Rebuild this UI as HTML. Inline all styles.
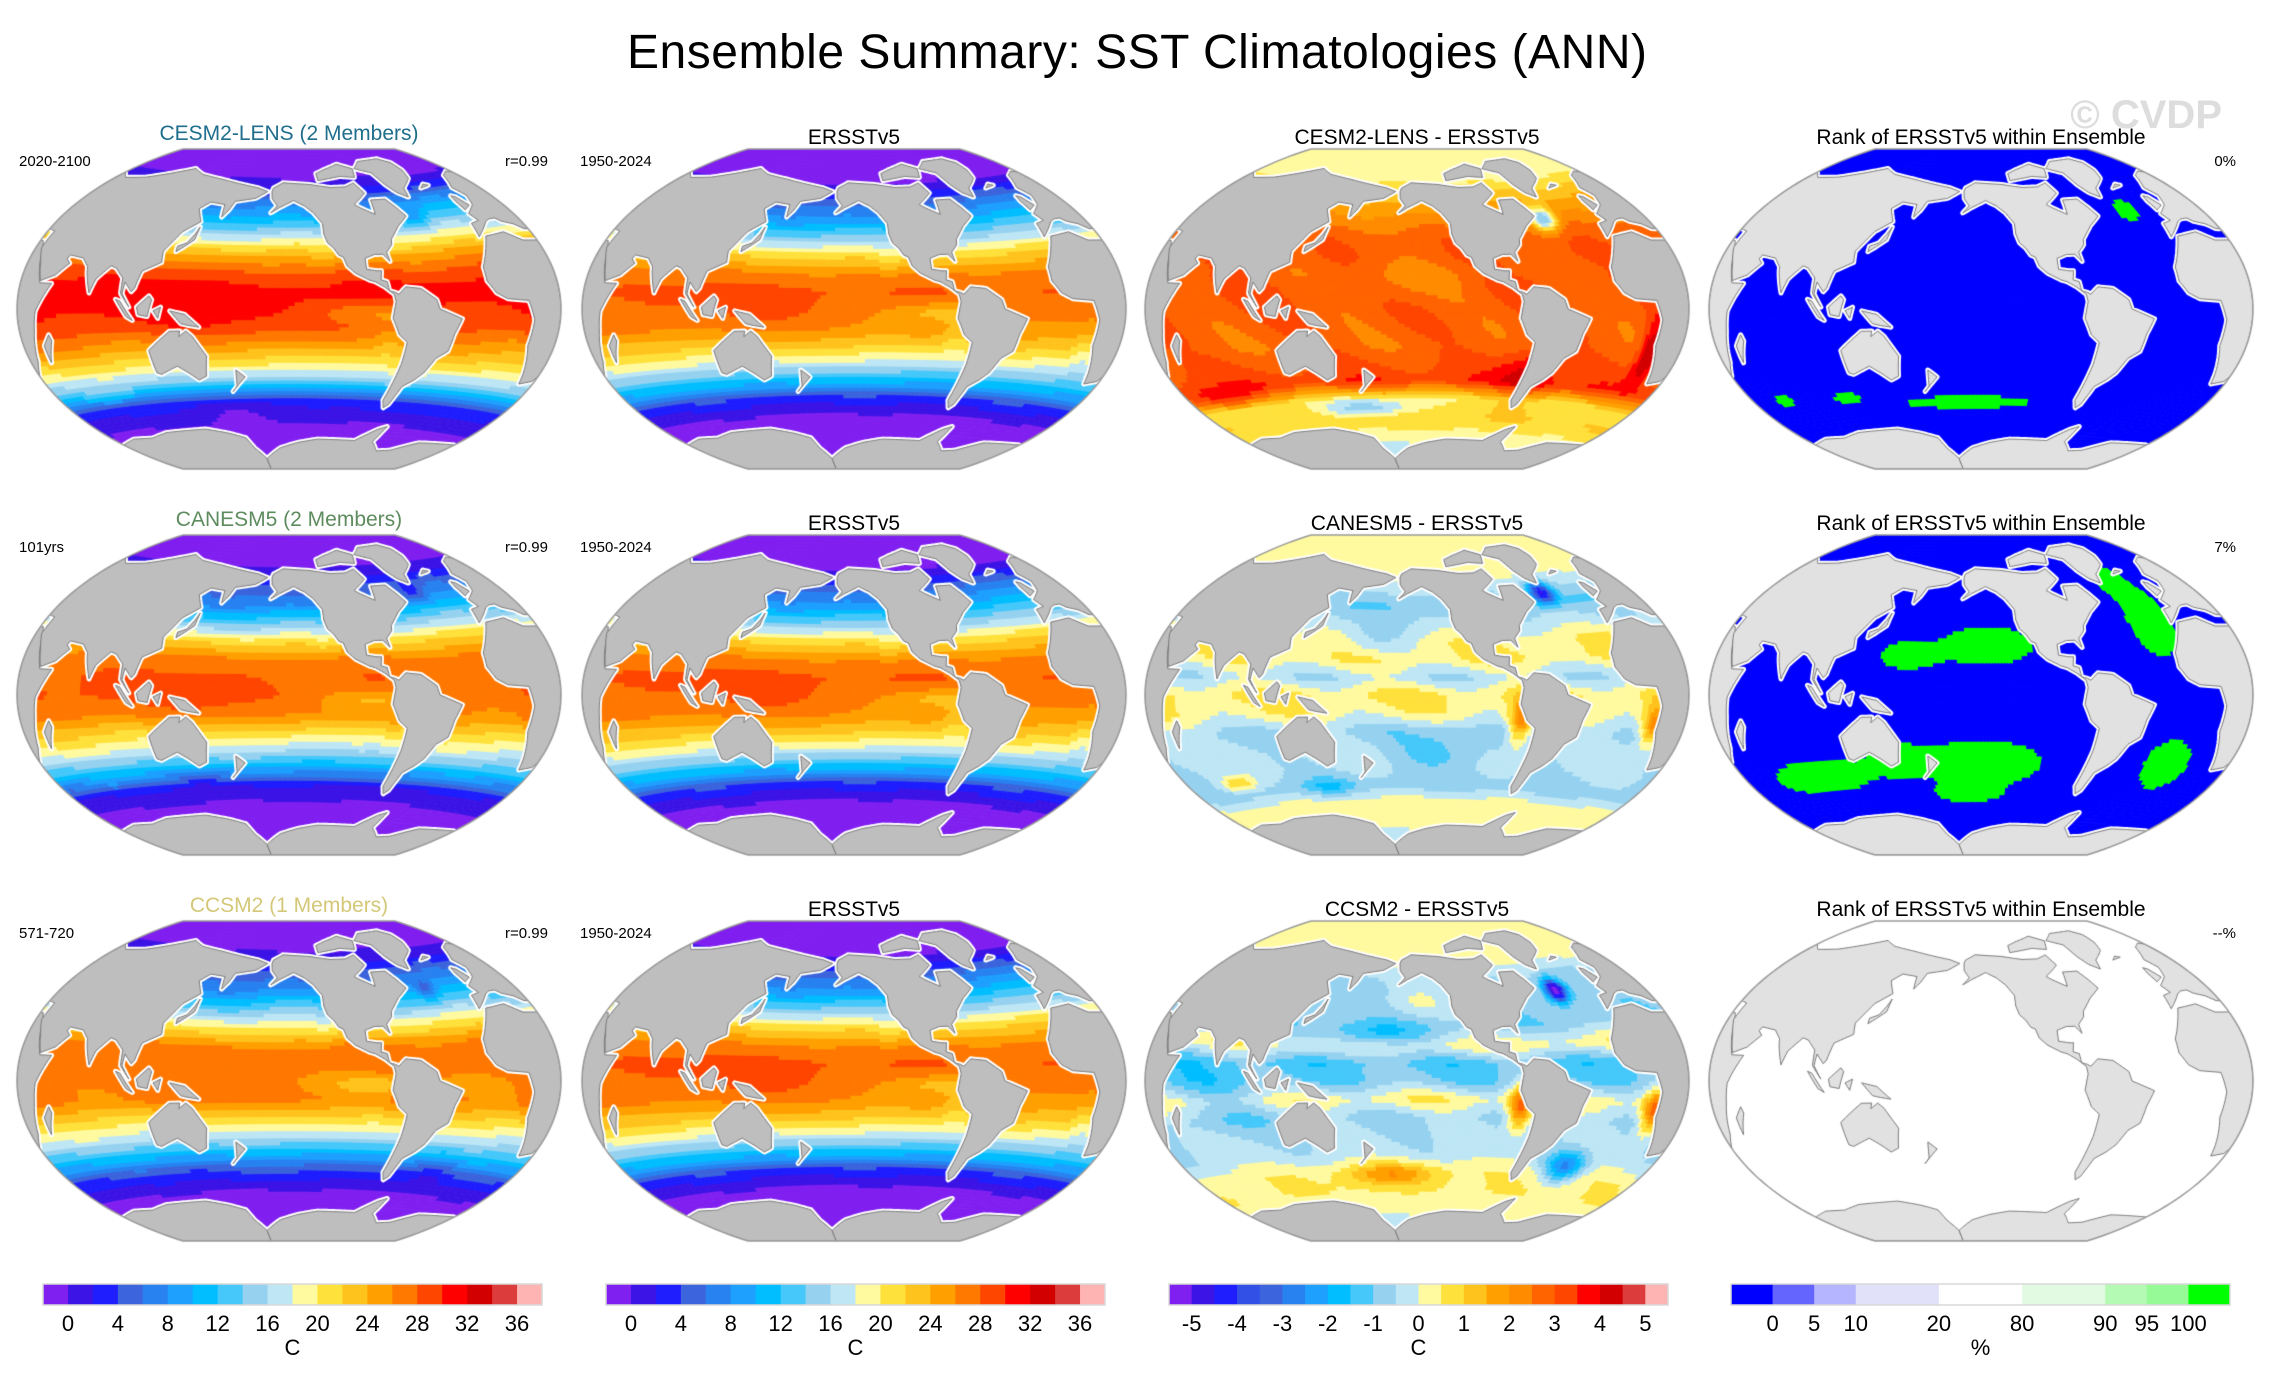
<!DOCTYPE html>
<html><head><meta charset="utf-8">
<style>
html,body{margin:0;padding:0;background:#fff;}
#wrap{position:relative;width:2274px;height:1386px;overflow:hidden;font-family:"Liberation Sans",sans-serif;}
canvas,svg{position:absolute;left:0;top:0;}
</style></head>
<body>
<div id="wrap">
<canvas id="maps" width="2274" height="1386"></canvas>
<svg id="ov" width="2274" height="1386" font-family="Liberation Sans, sans-serif">
<text x="1137" y="68" font-size="48" text-anchor="middle" textLength="1020">Ensemble Summary: SST Climatologies (ANN)</text>
<text x="2222" y="128" font-size="40" font-weight="bold" fill="#dddddd" text-anchor="end">© CVDP</text>
</svg>
</div>
<script>
// ---------- data ----------
const sstLevels=[0,2,4,6,8,10,12,14,16,18,20,22,24,26,28,30,32,34,36];
const sstColors=["#8020F0","#3C14E6","#1E1EFF","#3C64DC","#2882F0","#1EA0FF","#00BEFF","#46C8FA","#96D2F0","#BEE6F5","#FFFAA0","#FFE13C","#FFC31E","#FFA000","#FF7800","#FF4600","#FF0000","#D20000","#DC3C3C","#FFB4B4"];
const sstTicks=[0,4,8,12,16,20,24,28,32,36];
const diffLevels=[-5,-4.5,-4,-3.5,-3,-2.5,-2,-1.5,-1,-0.5,0,0.5,1,1.5,2,2.5,3,3.5,4,4.5,5];
const diffColors=["#8020F0","#3C14E6","#1E1EFF","#3250E6","#3C64DC","#2882F0","#1EA0FF","#00BEFF","#46C8FA","#96D2F0","#BEE6F5","#FFFAA0","#FFE13C","#FFC31E","#FFA000","#FF8C00","#FF6400","#FF4600","#FF0000","#D20000","#DC3C3C","#FFB4B4"];
const diffTicks=[-5,-4,-3,-2,-1,0,1,2,3,4,5];
const rankLevels=[0,5,10,20,80,90,95,100];
const rankColors=["#0000FF","#6464FF","#B4B4FF","#E1E1FA","#FFFFFF","#E1FAE1","#B4FAB4","#96FA96","#00FF00"];
const rankBoxUnits=[1,1,1,2,2,2,1,1,1];
const rankTicks=["0","5","10","20","80","90","95","100"];

const zLat=[-90,-75,-60,-50,-40,-30,-20,-10,0,10,20,30,40,50,60,70,80,90];
const obsZonal=[-1.8,-1.8,-0.5,3,11,17.5,22.5,26,27,28,26,21.5,15,9,5,0,-1.5,-1.8];
const diff1Zonal=[0,0,1,0.6,3.4,3,2.7,2.8,2.9,3,2.8,2.9,2.8,2.2,1.5,0.5,0.3,0.3];
const diff2Zonal=[0,0,0.3,-0.8,-0.4,-0.3,-0.6,0.3,0.6,-0.4,0.5,0.4,-0.4,-1,-0.3,0.3,0.3,0.3];
const diff3Zonal=[0,0,0.5,0.4,-0.3,-0.4,-0.6,0.4,-0.9,-1.2,0.4,-0.8,-0.8,-0.8,-0.4,0.4,0.4,0.4];
// anomaly blobs: [lon, lat, lonRadius, latRadius, amplitude]
const obsBlobs=[[150,0,50,15,1.5],[265,-2,30,6,-3.5],[280,-15,12,15,-3],[10,-20,10,12,-3],[235,30,12,10,-3],[340,55,30,15,5],[165,45,25,10,-2],[80,5,30,15,1],[320,10,30,10,0.5]];
const diff1Blobs=[[290,-35,20,15,1.2],[10,-20,8,15,2],[310,48,10,7,-3.5],[60,-45,30,5,1.5],[170,-55,40,5,-1.5],[200,15,40,12,-0.6]];
const diff2Blobs=[[280,-15,8,12,2.5],[10,-15,8,10,2.5],[315,55,10,6,-4],[230,-30,35,12,-0.8],[140,-50,20,5,-0.8],[70,-45,15,4,1.5],[180,30,25,8,-0.8]];
const diff3Blobs=[[280,-15,8,12,3],[10,-15,8,10,3],[320,48,8,6,-5],[190,-52,35,6,1.5],[325,-45,15,8,-2.5],[180,25,35,8,-1.2],[210,45,30,10,0.8],[80,-10,40,15,-0.6]];
const rank1Blobs=[[200,-52,55,4,1],[105,-47,12,3,1],[330,52,10,6,1],[55,-45,8,3,1]];
const rank2Blobs=[[215,28,35,12,1],[335,40,18,22,1],[210,-38,50,14,1],[90,-42,40,10,1],[345,-35,18,14,1],[150,-35,18,8,1],[325,62,12,8,1],[160,22,20,8,1],[200,-55,25,5,1]];

// ---------- land (lon, lat) ----------
const land=[
[[-17,21],[-10,30],[-5,36],[10,37],[20,32],[32,31],[35,28],[43,12],[51,12],[42,-1],[40,-10],[35,-24],[28,-33],[20,-35],[18,-30],[12,-17],[13,-5],[9,4],[-5,5],[-12,8],[-17,14]],
[[-10,36],[-9,43],[-2,44],[-5,48],[5,52],[9,57],[5,62],[15,69],[25,71],[40,67],[60,69],[80,73],[100,77],[115,74],[140,72],[160,70],[180,68],[190,66],[180,62],[163,60],[160,55],[156,51],[155,58],[142,59],[135,55],[141,48],[130,42],[126,37],[121,31],[122,25],[110,20],[107,11],[105,9],[100,14],[99,8],[104,1],[98,8],[98,16],[92,21],[88,22],[80,15],[77,8],[73,18],[72,21],[67,25],[57,26],[56,24],[59,22],[52,16],[43,13],[39,21],[34,28],[35,36],[27,37],[22,40],[15,42],[12,44],[7,44],[3,43]],
[[-165,68],[-156,71],[-130,70],[-110,68],[-95,68],[-85,70],[-80,64],[-94,58],[-90,56],[-80,52],[-78,60],[-65,60],[-60,55],[-56,50],[-66,45],[-70,42],[-75,38],[-76,35],[-81,31],[-80,26],[-82,28],[-84,30],[-90,30],[-97,28],[-97,22],[-90,21],[-87,21],[-88,16],[-84,15],[-83,10],[-79,9],[-77,8],[-72,12],[-62,11],[-52,5],[-50,0],[-35,-5],[-39,-13],[-41,-22],[-48,-26],[-53,-34],[-58,-38],[-65,-42],[-67,-47],[-69,-52],[-72,-54],[-75,-50],[-73,-40],[-71,-30],[-70,-18],[-76,-14],[-81,-5],[-80,0],[-79,4],[-80,8],[-86,12],[-92,15],[-96,16],[-105,20],[-110,24],[-112,29],[-115,30],[-118,34],[-122,37],[-124,42],[-124,48],[-130,54],[-137,58],[-146,61],[-152,59],[-158,57],[-165,54],[-160,58],[-165,62],[-166,66]],
[[-73,78],[-60,82],[-30,83],[-20,80],[-20,75],[-25,70],[-40,65],[-43,60],[-50,63],[-55,68],[-58,75],[-68,77]],
[[-120,72],[-95,74],[-80,73],[-75,78],[-90,81],[-110,78],[-120,76]],
[[114,-22],[122,-17],[130,-12],[137,-12],[136,-15],[141,-12],[145,-15],[153,-26],[150,-37],[144,-39],[138,-35],[131,-31],[118,-35],[115,-34]],
[[109,1],[117,7],[119,5],[116,-4],[110,-3]],
[[95,5],[98,4],[106,-6],[102,-4]],
[[131,-1],[141,-3],[150,-10],[143,-9],[138,-8]],
[[130,31],[135,34],[141,38],[142,45],[140,41],[136,36],[130,34]],
[[44,-25],[50,-15],[49,-12],[44,-17]],
[[172,-34],[178,-38],[174,-41],[167,-46],[171,-43]],
[[-5,50],[2,52],[-2,57],[-5,58],[-6,55]],
[[-24,64],[-14,65],[-18,66]],
[[120,-1],[125,1],[123,-5]],
[[-180,-84],[-160,-78],[-140,-75],[-120,-73],[-100,-73],[-80,-73],[-65,-66],[-58,-64],[-60,-73],[-45,-78],[-30,-77],[-10,-71],[10,-70],[30,-69],[50,-67],[70,-68],[90,-66],[110,-66],[130,-66],[150,-69],[165,-72],[170,-78],[180,-84],[180,-90],[-180,-90]]
];

// ---------- helpers ----------
const D=Math.PI/180;
function wt(lamDeg,latDeg){const l=lamDeg*D,p=latDeg*D;const a=Math.acos(Math.cos(p)*Math.cos(l/2));const s=a<1e-9?1:Math.sin(a)/a;return [0.5*(l*2/Math.PI+2*Math.cos(p)*Math.sin(l/2)/s),0.5*(p+Math.sin(p)/s)];}
const KX=272/2.5708,KY=160/1.5708;
function interp(xs,ys,x){if(x<=xs[0])return ys[0];for(let i=1;i<xs.length;i++){if(x<=xs[i]){const t=(x-xs[i-1])/(xs[i]-xs[i-1]);return ys[i-1]+t*(ys[i]-ys[i-1]);}}return ys[ys.length-1];}
function blobs(list,lon,lat){let s=0;for(const b of list){let dl=((lon-b[0])%360+540)%360-180;const q=(dl/b[2])**2+((lat-b[1])/b[3])**2;s+=b[4]*Math.exp(-q);}return s;}
function obsT(lon,lat){return interp(zLat,obsZonal,lat)+blobs(obsBlobs,lon,lat)*Math.max(0,1-Math.abs(lat)/80)+0.4*Math.cos(lat*D)*Math.sin(lon*D*3+lat*D*4);}
function diffV(z,bl,lon,lat){return interp(zLat,z,lat)+blobs(bl,lon,lat)+0.35*Math.cos(lat*D)**2*Math.sin(lon*D*4+lat*D*6);}
function rankV(base,bl,lon,lat){return (bl&&blobs(bl,lon,lat)>0.45)?101:base;}
function classify(levels,v){let i=0;while(i<levels.length&&v>=levels[i])i++;return i;}

function clipX(poly,lim,keepGreater){const out=[];for(let i=0;i<poly.length;i++){const a=poly[i],b=poly[(i+1)%poly.length];const ina=keepGreater?a[0]>=lim:a[0]<=lim,inb=keepGreater?b[0]>=lim:b[0]<=lim;if(ina)out.push(a);if(ina!==inb){const t=(lim-a[0])/(b[0]-a[0]);out.push([lim,a[1]+t*(b[1]-a[1])]);}}return out;}
function densify(poly){const out=[];for(let i=0;i<poly.length;i++){const a=poly[i],b=poly[(i+1)%poly.length];const n=Math.max(1,Math.ceil(Math.max(Math.abs(b[0]-a[0]),Math.abs(b[1]-a[1]))/2));for(let k=0;k<n;k++)out.push([a[0]+(b[0]-a[0])*k/n,a[1]+(b[1]-a[1])*k/n]);}return out;}
const landRings=[];
for(const poly of land){for(const o of [-360,0,360]){let p=poly.map(q=>[q[0]+o-210,q[1]]);p=clipX(p,-180,true);if(p.length<3)continue;p=clipX(p,180,false);if(p.length<3)continue;landRings.push(densify(p).map(q=>wt(q[0],q[1])));}}
const outline=[];
for(let la=-90;la<=90;la+=2)outline.push(wt(-180,la));
for(let la=90;la>=-90;la-=2)outline.push(wt(180,la));
const NX=180,NY=90,grid=[];
for(let i=0;i<=NX;i++){grid.push([]);for(let j=0;j<=NY;j++)grid[i].push(wt(-180+2*i,-90+2*j));}

const cv=document.getElementById('maps'),ctx=cv.getContext('2d');
const colX=[289,854,1417,1981],rowY=[309,695,1081];
function ringPath(r,cx,cy){ctx.beginPath();r.forEach((p,k)=>{const x=cx+p[0]*KX,y=cy-p[1]*KY;k?ctx.lineTo(x,y):ctx.moveTo(x,y);});ctx.closePath();}
function drawPanel(cx,cy,valFn,levels,colors,landCol){
 ctx.save();ringPath(outline,cx,cy);ctx.clip();
 ctx.fillStyle='#fff';ctx.fillRect(cx-280,cy-170,560,340);
 ctx.lineWidth=1;
 for(let i=0;i<NX;i++)for(let j=0;j<NY;j++){
  const lon=30+2*i+1,lat=-90+2*j+1;const c=colors[classify(levels,valFn(lon,lat))];
  const a=grid[i][j],b=grid[i+1][j],c2=grid[i+1][j+1],d=grid[i][j+1];
  ctx.beginPath();ctx.moveTo(cx+a[0]*KX,cy-a[1]*KY);ctx.lineTo(cx+b[0]*KX,cy-b[1]*KY);ctx.lineTo(cx+c2[0]*KX,cy-c2[1]*KY);ctx.lineTo(cx+d[0]*KX,cy-d[1]*KY);ctx.closePath();
  ctx.fillStyle=c;ctx.strokeStyle=c;ctx.fill();ctx.stroke();}
 ctx.lineJoin='round';
 for(const r of landRings){ringPath(r,cx,cy);ctx.strokeStyle='#fff';ctx.lineWidth=5;ctx.stroke();}
 for(const r of landRings){ringPath(r,cx,cy);ctx.fillStyle=landCol;ctx.fill();ctx.strokeStyle='#7a7a7a';ctx.lineWidth=1;ctx.stroke();}
 ctx.restore();
 ringPath(outline,cx,cy);ctx.strokeStyle='#9a9a9a';ctx.lineWidth=1.5;ctx.stroke();}

const diffZ=[diff1Zonal,diff2Zonal,diff3Zonal],diffB=[diff1Blobs,diff2Blobs,diff3Blobs];
const rankBase=[-1,-1,50],rankB=[rank1Blobs,rank2Blobs,null];
for(let r=0;r<3;r++){
 const cy=rowY[r];
 drawPanel(colX[0],cy,(lo,la)=>obsT(lo,la)+diffV(diffZ[r],diffB[r],lo,la),sstLevels,sstColors,'#bebebe');
 drawPanel(colX[1],cy,(lo,la)=>obsT(lo,la),sstLevels,sstColors,'#bebebe');
 drawPanel(colX[2],cy,(lo,la)=>diffV(diffZ[r],diffB[r],lo,la),diffLevels,diffColors,'#bebebe');
 drawPanel(colX[3],cy,(lo,la)=>rankV(rankBase[r],rankB[r],lo,la),rankLevels,rankColors,'#e1e1e1');
}

// ---------- text ----------
const NS='http://www.w3.org/2000/svg',ov=document.getElementById('ov');
function txt(x,y,s,size,anchor,fill,name){const t=document.createElementNS(NS,'text');t.setAttribute('x',x);t.setAttribute('y',y);t.setAttribute('font-size',size);t.setAttribute('text-anchor',anchor);t.setAttribute('fill',fill||'#000');t.textContent=s;


ov.appendChild(t);return t;}
const modelNames=["CESM2-LENS (2 Members)","CANESM5 (2 Members)","CCSM2 (1 Members)"];
const modelColors=["#1F6E8C","#5E8C5E","#D4C878"];
const diffTitles=["CESM2-LENS - ERSSTv5","CANESM5 - ERSSTv5","CCSM2 - ERSSTv5"];
const periods=["2020-2100","101yrs","571-720"];
const ranksPct=["0%","7%","--%"];
for(let r=0;r<3;r++){const dy=r*386;
 txt(289,140+dy,modelNames[r],21,'middle',modelColors[r],'model-title');
 txt(854,144+dy,"ERSSTv5",21,'middle','#000','obs-title');
 txt(1417,144+dy,diffTitles[r],21,'middle','#000','diff-title');
 txt(1981,144+dy,"Rank of ERSSTv5 within Ensemble",21,'middle','#000','rank-title');
 txt(19,166+dy,periods[r],15,'start','#000','model-period');
 txt(548,166+dy,"r=0.99",15,'end','#000','pattern-correlation');
 txt(580,166+dy,"1950-2024",15,'start','#000','obs-period');
 txt(2236,166+dy,ranksPct[r],15,'end','#000','rank-percent');}

// ---------- colorbars ----------
function rect(x,y,w,h,f,name){const e=document.createElementNS(NS,'rect');e.setAttribute('x',x);e.setAttribute('y',y);e.setAttribute('width',w);e.setAttribute('height',h);e.setAttribute('fill',f);


ov.appendChild(e);}
const barY=1284,barH=21,barW=499,barX=[43,606,1169,1731];
function equalBar(x0,colors,levels,ticks,lab){
 const bw=barW/colors.length;
 colors.forEach((c,i)=>rect(x0+i*bw,barY,bw+0.5,barH,c,'colorbar-box'));
 ticks.forEach(t=>{const k=levels.indexOf(t);txt(x0+(k+1)*bw,1331,String(t),22,'middle','#000','colorbar-tick-label');});
 txt(x0+barW/2,1355,lab,22,'middle','#000','colorbar-unit');
 const o=document.createElementNS(NS,'rect');o.setAttribute('x',x0);o.setAttribute('y',barY);o.setAttribute('width',barW);o.setAttribute('height',barH);o.setAttribute('fill','none');o.setAttribute('stroke','#d8d8d8');o.setAttribute('stroke-width','1.5');
 
 
 ov.appendChild(o);}
equalBar(barX[0],sstColors,sstLevels,sstTicks,'C');
equalBar(barX[1],sstColors,sstLevels,sstTicks,'C');
equalBar(barX[2],diffColors,diffLevels,diffTicks,'C');
(function(){const tot=rankBoxUnits.reduce((a,b)=>a+b,0),u=barW/tot;let x=barX[3];
 rankColors.forEach((c,i)=>{rect(x,barY,rankBoxUnits[i]*u+0.5,barH,c,'rank-colorbar-box');x+=rankBoxUnits[i]*u;
  if(i<rankTicks.length)txt(x,1331,rankTicks[i],22,'middle','#000','rank-tick-label');});
 txt(barX[3]+barW/2,1355,'%',22,'middle','#000','rank-colorbar-unit');
 const o=document.createElementNS(NS,'rect');o.setAttribute('x',barX[3]);o.setAttribute('y',barY);o.setAttribute('width',barW);o.setAttribute('height',barH);o.setAttribute('fill','none');o.setAttribute('stroke','#d8d8d8');o.setAttribute('stroke-width','1.5');
 
 
 ov.appendChild(o);})();
</script>
</body></html>
